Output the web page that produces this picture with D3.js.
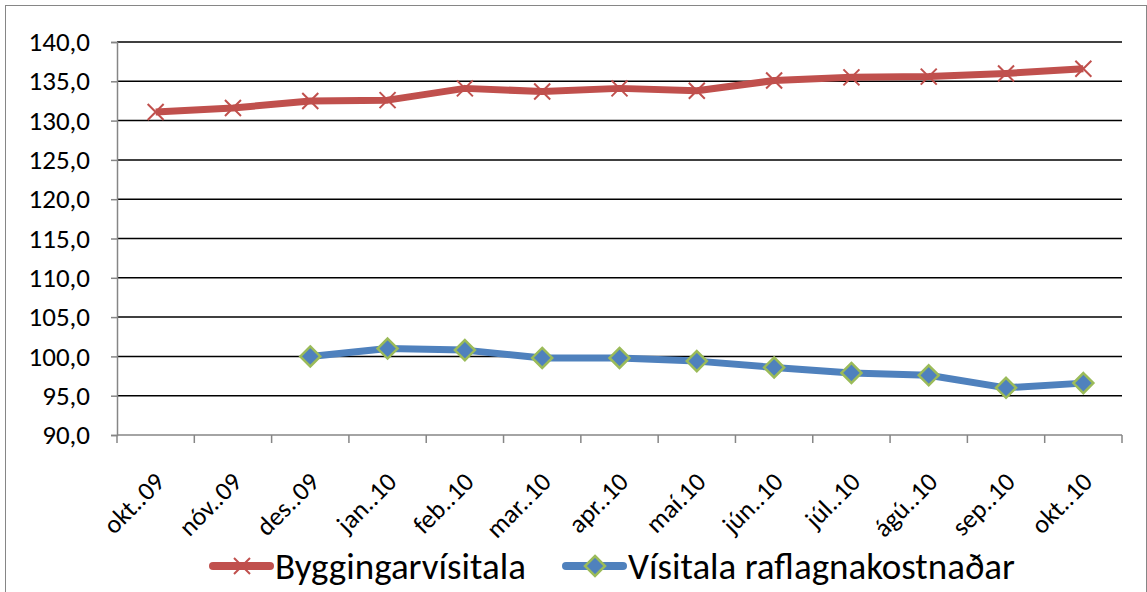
<!DOCTYPE html>
<html>
<head>
<meta charset="utf-8">
<script src="https://cdn.jsdelivr.net/npm/d3@7"></script>
<style>
  body { margin: 0; background: #fff; }
  text { font-family: Carlito, Calibri, Lato, "Open Sans", sans-serif; fill: #000; }
</style>
</head>
<body>
<div id="chart"></div>
<script>
const months = ['okt..09', 'nóv..09', 'des..09', 'jan..10', 'feb..10', 'mar..10', 'apr..10',
  'maí.10', 'jún..10', 'júl..10', 'ágú..10', 'sep..10', 'okt..10'];

const byggingarvisitala = [131.1, 131.6, 132.5, 132.6, 134.1, 133.7, 134.1, 133.8, 135.1, 135.5, 135.6, 136.0, 136.6];
const raflagnir = [null, null, 100.0, 101.0, 100.8, 99.8, 99.8, 99.4, 98.6, 97.9, 97.6, 96.0, 96.6];

const yTicks = [90, 95, 100, 105, 110, 115, 120, 125, 130, 135, 140];

const seriesNames = ['Byggingarvísitala', 'Vísitala raflagnakostnaðar'];

const width = 1147, height = 592;
const margin = { top: 42, right: 25, bottom: 157, left: 117 };
const innerW = width - margin.left - margin.right;
const innerH = height - margin.top - margin.bottom;

const fmt = v => d3.format('.1f')(v).replace('.', ',');

const svg = d3.select('#chart').append('svg')
  .attr('width', width)
  .attr('height', height);

// outer frame
svg.append('rect')
  .attr('x', 5.5).attr('y', 5.5)
  .attr('width', width - 6).attr('height', height)
  .attr('fill', 'none')
  .attr('stroke', '#868686')
  .attr('stroke-width', 1);

const g = svg.append('g').attr('transform', `translate(${margin.left},${margin.top})`);

const x = d3.scaleBand().domain(months).range([0, innerW]);
const y = d3.scaleLinear().domain([90, 140]).range([innerH, 0]);

// gridlines
g.append('g')
  .selectAll('line')
  .data(yTicks.filter(d => d > 90))
  .join('line')
  .attr('x1', 0).attr('x2', innerW)
  .attr('y1', d => y(d)).attr('y2', d => y(d))
  .attr('stroke', '#000')
  .attr('stroke-width', 1.5);

// y axis
const yAxis = g.append('g')
  .call(d3.axisLeft(y).tickValues(yTicks).tickFormat(fmt).tickSize(6).tickPadding(21));
yAxis.select('.domain').attr('stroke', '#868686').attr('stroke-width', 1.5);
yAxis.selectAll('.tick line').attr('stroke', '#868686').attr('stroke-width', 1.5);
yAxis.selectAll('.tick text').style('font-size', '27px');

// x axis with ticks at band edges
const xAxis = g.append('g').attr('transform', `translate(0,${innerH})`);
xAxis.append('line')
  .attr('x1', 0).attr('x2', innerW)
  .attr('stroke', '#868686').attr('stroke-width', 1.5);
xAxis.selectAll('line.edge')
  .data(months.map((m, i) => i).concat([months.length]))
  .join('line')
  .attr('class', 'edge')
  .attr('x1', i => i * x.step()).attr('x2', i => i * x.step())
  .attr('y1', 0).attr('y2', 8)
  .attr('stroke', '#868686').attr('stroke-width', 1.5);
xAxis.selectAll('text')
  .data(months)
  .join('text')
  .attr('transform', d => `translate(${x(d) + x.bandwidth() / 2 + 4},${42}) rotate(-45)`)
  .attr('text-anchor', 'end')
  .attr('dy', '0.35em')
  .attr('font-size', 26)
  .text(d => d);

const red = '#c0504d', blue = '#4f81bd', green = '#9bbb59';
const cx = (d, i) => x(months[i]) + x.bandwidth() / 2;

const line = d3.line()
  .defined(d => d !== null)
  .x((d, i) => cx(d, i))
  .y(d => y(d));

g.append('path')
  .datum(byggingarvisitala)
  .attr('d', line)
  .attr('fill', 'none')
  .attr('stroke', red)
  .attr('stroke-width', 7)
  .attr('stroke-linejoin', 'round');

g.append('path')
  .datum(raflagnir)
  .attr('d', line)
  .attr('fill', 'none')
  .attr('stroke', blue)
  .attr('stroke-width', 7)
  .attr('stroke-linejoin', 'round');

const crossPath = 'M-8,-8L8,8M-8,8L8,-8';
const diamondPath = 'M0,-10L10,0L0,10L-10,0Z';

g.append('g')
  .selectAll('path')
  .data(byggingarvisitala.map((v, i) => ({ v, i })))
  .join('path')
  .attr('transform', d => `translate(${cx(d.v, d.i)},${y(d.v)})`)
  .attr('d', crossPath)
  .attr('stroke', red)
  .attr('stroke-width', 2);

g.append('g')
  .selectAll('path')
  .data(raflagnir.map((v, i) => ({ v, i })).filter(d => d.v !== null))
  .join('path')
  .attr('transform', d => `translate(${cx(d.v, d.i)},${y(d.v)})`)
  .attr('d', diamondPath)
  .attr('fill', blue)
  .attr('stroke', green)
  .attr('stroke-width', 2.5);

// legend
const legend = svg.append('g').attr('transform', 'translate(0,566)');
const items = [
  { name: seriesNames[0], color: red, marker: 'cross', x0: 213 },
  { name: seriesNames[1], color: blue, marker: 'diamond', x0: 566 },
];
items.forEach(it => {
  const lg = legend.append('g').attr('transform', `translate(${it.x0},0)`);
  lg.append('line')
    .attr('x1', 0).attr('x2', 57)
    .attr('stroke', it.color)
    .attr('stroke-width', 8)
    .attr('stroke-linecap', 'round');
  lg.append('path')
    .attr('transform', 'translate(29,0)')
    .attr('d', it.marker === 'cross' ? crossPath : diamondPath)
    .attr('fill', it.marker === 'cross' ? 'none' : blue)
    .attr('stroke', it.marker === 'cross' ? red : green)
    .attr('stroke-width', it.marker === 'cross' ? 2 : 2.5);
  lg.append('text')
    .attr('x', 62)
    .attr('dy', '0.35em')
    .attr('font-size', 37)
    .text(it.name);
});
</script>
</body>
</html>
